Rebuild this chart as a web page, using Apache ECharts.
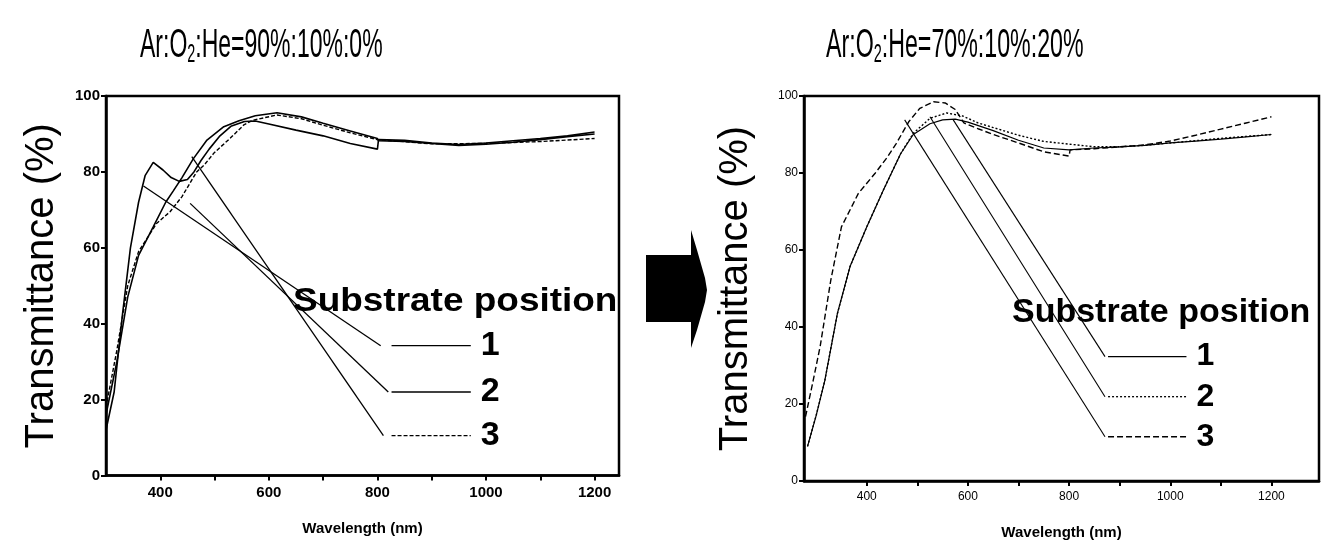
<!DOCTYPE html>
<html>
<head>
    <meta charset="UTF-8">
    <title>Transmittance vs wavelength</title>
    <script type="text/javascript" src="https://cdn.jsdelivr.net/npm/echarts@6/dist/echarts.min.js"></script>
    <style>
        html, body { margin: 0; padding: 0; background: #fff; }
        #chart { width: 1322px; height: 554px; }
    </style>
</head>
<body>
<div id="chart"></div>
<script>
    // Ar:O2:He = 90:10:0  ([wavelength nm, transmittance %])
    var leftCurve1 = [[300,12],[315,22],[330,42],[345,60],[360,72],[372,79],[387,82.5],[405,80.5],[420,78.5],[435,77.5],[450,78],[462,80],[475,83],[490,86],[510,89.5],[530,92],[555,93.3],[575,93.4],[600,92.6],[650,91],[700,89.5],[750,87.5],[800,86],[802,88.5],[850,88.3],[900,87.6],[950,87.2],[1000,87.6],[1050,88.2],[1100,88.8],[1150,89.5],[1200,90.5]];
    var leftCurve2 = [[300,16],[320,30],[340,47],[360,58],[387,65.5],[410,72],[424,75],[440,78.5],[461,83.5],[486,88.4],[517,91.9],[545,93.5],[575,94.8],[615,95.6],[660,94.5],[700,92.8],[750,90.8],[800,88.8],[802,88.2],[850,88],[900,87.5],[950,87],[1000,87.3],[1050,87.8],[1100,88.5],[1150,89.3],[1200,90]];
    var leftCurve3 = [[300,18],[320,33],[340,50],[360,59],[393,66.4],[418,69.5],[440,73.5],[467,80],[482,82],[499,85],[529,88.9],[554,92.4],[570,93.6],[615,95],[660,94],[700,92.3],[750,90.3],[800,88.5],[802,88],[900,87.4],[1000,87.5],[1100,88],[1200,88.8]];
    var leftPointers = [[[369,76.3],[806,34.2]], [[455,71.7],[820,22]], [[458,84],[811,10.5]]];
    var leftKeys = [[[826,34.2],[972,34.2]], [[826,22],[972,22]], [[826,10.5],[972,10.5]]];

    // Ar:O2:He = 70:10:20
    var rightCurve1 = [[283,9],[300,17],[317,26],[342,43.5],[367,55.7],[400,66],[433,75.6],[467,85],[492,90],[525,92.8],[550,93.8],[575,94],[600,93.2],[650,91],[700,88.5],[750,86.5],[800,86],[802,86.5],[850,86.5],[900,86.8],[950,87.2],[1000,87.8],[1050,88.3],[1100,88.8],[1150,89.4],[1200,90]];
    var rightCurve2 = [[283,9],[300,17],[317,26],[342,43.5],[367,55.7],[400,66],[433,75.6],[467,85],[492,90.3],[525,94.2],[558,95.6],[590,94.8],[620,93],[650,91.8],[700,89.8],[750,88.2],[800,87.5],[802,87.2],[850,86.8],[900,86.8],[950,87.2],[1000,87.8],[1050,88.4],[1100,89],[1150,89.5],[1200,90]];
    var rightCurve3 = [[279,16.7],[294,26],[308,35],[329,52.2],[350,66],[383.5,74.7],[417,80],[440,84],[458.6,87.7],[483,93.3],[505,96.8],[532,98.5],[555,98.2],[575,96.5],[592,93],[620,91.5],[650,90],[700,87.8],[750,85.5],[800,84.4],[802,86],[850,86.3],[900,86.8],[950,87.3],[1000,88.3],[1050,89.8],[1100,91.4],[1150,93],[1200,94.6]];
    var rightPointers = [[[571,93.8],[871,32.3]], [[525,94.6],[871,21.9]], [[475,93.8],[871,11.5]]];
    var rightKeys = [[[877,32.3],[1032,32.3]], [[877,21.9],[1032,21.9]], [[877,11.5],[1032,11.5]]];

    var keyNames = ['1', '2', '3'];
    var xLabelValues = [400, 600, 800, 1000, 1200];
    var xTickValues = [400, 500, 600, 700, 800, 900, 1000, 1100, 1200];
    var yTickValues = [0, 20, 40, 60, 80, 100];

    var FONT = '"Liberation Sans", Arial, sans-serif';

    function curve(data, idx, dash, width) {
        return {
            type: 'line', xAxisIndex: idx, yAxisIndex: idx, data: data,
            showSymbol: false, silent: true, animation: false,
            lineStyle: {color: '#000', width: width || 1.4, type: dash || 'solid'}
        };
    }

    function keySeries(data, idx, name, dash, size, gap) {
        var s = curve(data, idx, dash, 1.3);
        s.endLabel = {
            show: true, formatter: name, color: '#000', fontFamily: FONT,
            fontWeight: 'bold', fontSize: size, distance: gap
        };
        return s;
    }

    function xAxis(idx, min, max, bold, size) {
        return {
            type: 'value', gridIndex: idx, min: min, max: max,
            name: 'Wavelength (nm)', nameLocation: 'middle', nameGap: idx ? 44 : 46,
            nameTextStyle: {fontFamily: FONT, fontWeight: 'bold', fontSize: 15, color: '#000'},
            axisLine: {lineStyle: {color: '#000', width: 2.5}},
            axisTick: {show: true, length: 5, lineStyle: {color: '#000', width: 2}, customValues: xTickValues},
            axisLabel: {customValues: xLabelValues, color: '#000', fontFamily: FONT,
                fontWeight: bold ? 'bold' : 'normal', fontSize: size, margin: 10,
                formatter: function (v) { return String(v); }},
            splitLine: {show: false}
        };
    }

    function yAxis(idx, bold, size) {
        return {
            type: 'value', gridIndex: idx, min: 0, max: 100, interval: 20,
            name: 'Transmittance (%)', nameLocation: 'middle', nameGap: idx ? 48 : 44,
            nameTextStyle: {fontFamily: FONT, fontSize: 40, color: '#000'},
            axisLine: {lineStyle: {color: '#000', width: 2.5}},
            axisTick: {show: true, length: 5, lineStyle: {color: '#000', width: 2}},
            axisLabel: {color: '#000', fontFamily: FONT, fontWeight: bold ? 'bold' : 'normal',
                fontSize: size, margin: 6, customValues: yTickValues},
            splitLine: {show: false}
        };
    }

    var series = [
        curve(leftCurve1, 0, 'solid', 1.6),
        curve(leftCurve2, 0, 'solid', 1.6),
        curve(leftCurve3, 0, [4, 2], 1.4),
        curve(rightCurve1, 1, 'solid', 1.2),
        curve(rightCurve2, 1, [2, 2], 1.4),
        curve(rightCurve3, 1, [6, 3], 1.4)
    ];
    var keyDash = ['solid', 'solid', [4, 2]];
    var keyDashR = ['solid', [2, 2], [6, 3]];
    for (var i = 0; i < 3; i++) {
        series.push(curve(leftPointers[i], 0, 'solid', 1.3));
        series.push(keySeries(leftKeys[i], 0, keyNames[i], keyDash[i], 34, 10));
        series.push(curve(rightPointers[i], 1, 'solid', 1.1));
        series.push(keySeries(rightKeys[i], 1, keyNames[i], keyDashR[i], 32, 10));
    }

    // very condensed heading font, squeezed with scaleX
    var titleRich = {
        a: {fontFamily: FONT, fontSize: 40, color: '#000'},
        s: {fontFamily: FONT, fontSize: 25, color: '#000', padding: [18, 0, 0, 0]}
    };

    var chart = echarts.init(document.getElementById('chart'), null, {renderer: 'canvas'});
    chart.setOption({
        backgroundColor: '#fff',
        animation: false,
        grid: [
            {left: 106, right: 703, top: 96, bottom: 78.5, show: true, borderColor: '#000', borderWidth: 2.5},
            {left: 804, right: 3, top: 96, bottom: 73, show: true, borderColor: '#000', borderWidth: 2.5}
        ],
        xAxis: [xAxis(0, 300, 1245, true, 15), xAxis(1, 276, 1294, false, 12)],
        yAxis: [yAxis(0, true, 15), yAxis(1, false, 12)],
        series: series,
        graphic: [
            {type: 'text', x: 140, y: 46, scaleX: 0.575, style: {
                text: '{a|Ar:O}{s|2}{a|:He=90%:10%:0%}', rich: titleRich, verticalAlign: 'middle'}},
            {type: 'text', x: 826, y: 46, scaleX: 0.58, style: {
                text: '{a|Ar:O}{s|2}{a|:He=70%:10%:20%}', rich: titleRich, verticalAlign: 'middle'}},
            {type: 'text', x: 293, y: 302, scaleX: 1.12, style: {
                text: 'Substrate position', fontFamily: FONT, fontWeight: 'bold', fontSize: 33,
                fill: '#000', verticalAlign: 'middle'}},
            {type: 'text', x: 1012, y: 313, scaleX: 1.03, style: {
                text: 'Substrate position', fontFamily: FONT, fontWeight: 'bold', fontSize: 33,
                fill: '#000', verticalAlign: 'middle'}},
            // block arrow between the two panels
            {type: 'polygon', shape: {points: [[646,255],[691,255],[691,230],[697,250],[705,278],[707,290],
                [705,302],[697,330],[691,348],[691,322],[646,322]]}, style: {fill: '#000'}}
        ]
    });
</script>
</body>
</html>
